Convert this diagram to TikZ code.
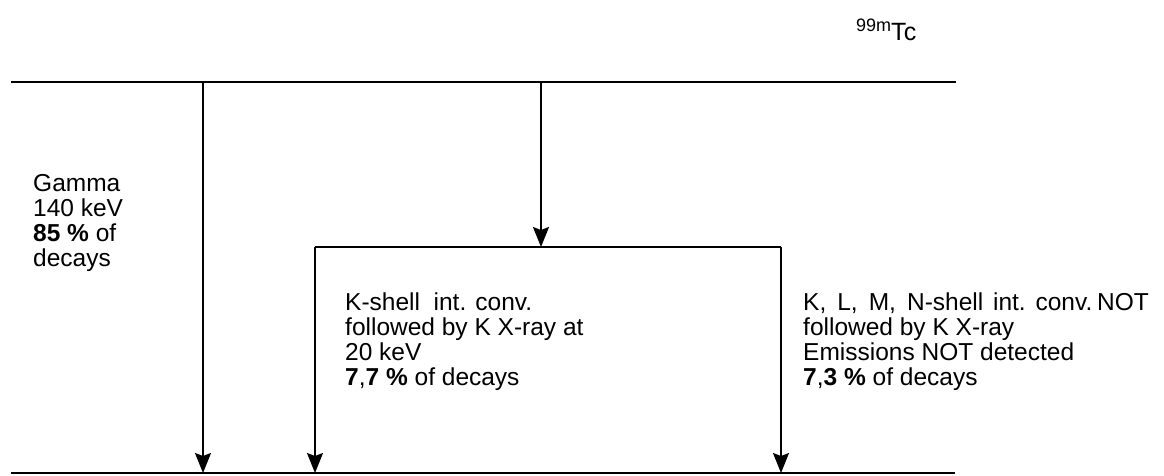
\documentclass[tikz,border=0pt]{standalone}
\usepackage{fontspec}
\setmainfont{Liberation Sans}
\usetikzlibrary{arrows.meta}
\begin{document}
\begin{tikzpicture}[x=1pt,y=-1pt,
  level/.style={line width=1.8pt},
  decay/.style={line width=1.8pt,-{Stealth[length=20pt,width=16pt,inset=3pt]}},
  lbl/.style={anchor=north west,inner sep=0pt,align=left,font=\fontsize{24.5}{25}\selectfont}]
\useasboundingbox (0,0) rectangle (1164,475);
% levels
\coordinate (tl) at (11,82);
\coordinate (tr) at (956,82);
\coordinate (bl) at (11,473);
\coordinate (br) at (955,473);
\draw[level] (tl) -- (tr);
\draw[level] (bl) -- (br);
% branch points
\coordinate (g0) at (203,82);
\coordinate (g1) at (203,473);
\coordinate (m0) at (541,82);
\coordinate (m1) at (541,247);
\coordinate (bar0) at (315,247);
\coordinate (bar1) at (781,247);
\coordinate (k1) at (315,473);
\coordinate (n1) at (781,473);
\draw[decay] (g0) -- (g1);
\draw[decay] (m0) -- (m1);
\draw[level] (bar0) -- (bar1);
\draw[decay] (bar0) -- (k1);
\draw[decay] (bar1) -- (n1);
% labels
\node[anchor=base west,inner sep=0pt,font=\fontsize{25}{26}\selectfont] (tc) at (856,40) {\raisebox{9pt}{\fontsize{18}{19}\selectfont 99m}Tc};
\node[lbl] (gamma) at (33,174) {Gamma\\140 keV\\\textbf{85 \%} of\\decays};
\node[lbl] (kshell) at (345,293) {K-shell\ \ int. conv.\\followed by K X-ray at\\20 keV\\\textbf{7},\textbf{7 \%} of decays};
\node[lbl] (klmn) at (803,293) {K,\hspace{0.45em}L,\hspace{0.45em}M,\hspace{0.45em}N-shell\hspace{0.4em}int.\hspace{0.4em}conv.\hspace{0.2em}NOT\\followed by K X-ray\\Emissions NOT detected\\\textbf{7},\textbf{3 \%} of decays};
\end{tikzpicture}
\end{document}
